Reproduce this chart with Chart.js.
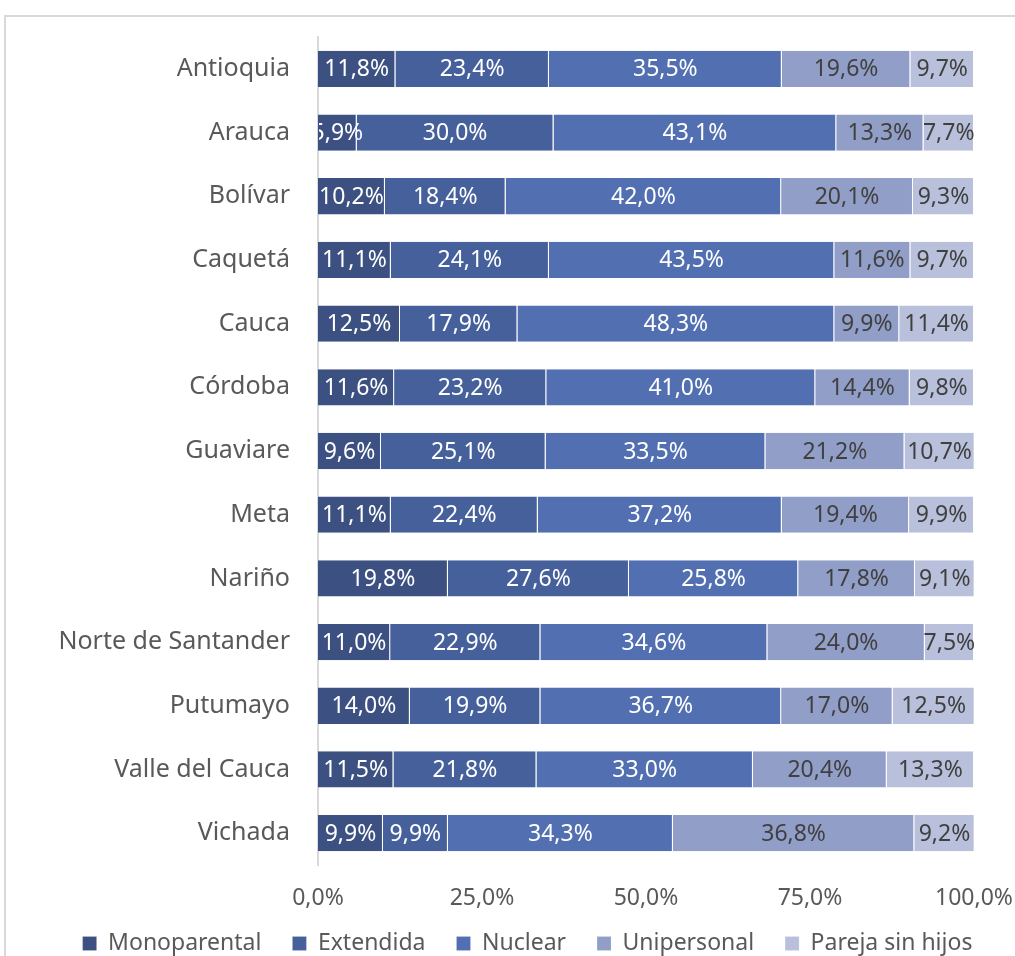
<!DOCTYPE html>
<html>
<head>
<meta charset="utf-8">
<script src="https://cdn.jsdelivr.net/npm/chart.js@4"></script>
<style>
  html, body { margin: 0; padding: 0; background: #fff; overflow: hidden; }
  #frame { position: absolute; left: 4px; top: 15px; width: 1100px; height: 1100px; border: 2px solid #d9d9d9; }
  #wrap { position: absolute; left: 0; top: 0; width: 1015px; height: 977px; }
</style>
</head>
<body>
<div id="frame"></div>
<div id="wrap"><canvas id="chart"></canvas></div>
<script>
const departamentos = ['Antioquia', 'Arauca', 'Bolívar', 'Caquetá', 'Cauca', 'Córdoba', 'Guaviare',
  'Meta', 'Nariño', 'Norte de Santander', 'Putumayo', 'Valle del Cauca', 'Vichada'];
const tipos = ['Monoparental', 'Extendida', 'Nuclear', 'Unipersonal', 'Pareja sin hijos'];
const monoparental = [11.8, 5.9, 10.2, 11.1, 12.5, 11.6, 9.6, 11.1, 19.8, 11.0, 14.0, 11.5, 9.9];
const extendida = [23.4, 30.0, 18.4, 24.1, 17.9, 23.2, 25.1, 22.4, 27.6, 22.9, 19.9, 21.8, 9.9];
const nuclear = [35.5, 43.1, 42.0, 43.5, 48.3, 41.0, 33.5, 37.2, 25.8, 34.6, 36.7, 33.0, 34.3];
const unipersonal = [19.6, 13.3, 20.1, 11.6, 9.9, 14.4, 21.2, 19.4, 17.8, 24.0, 17.0, 20.4, 36.8];
const parejaSinHijos = [9.7, 7.7, 9.3, 9.7, 11.4, 9.8, 10.7, 9.9, 9.1, 7.5, 12.5, 13.3, 9.2];
const ejeX = [0, 25, 50, 75, 100];

const colores = ['#3c5181', '#46609c', '#5270b1', '#919fc8', '#b9c0dc'];
const coloresTexto = ['#ffffff', '#ffffff', '#ffffff', '#404040', '#404040'];
const fuente = "'Noto Sans', 'Open Sans', sans-serif";

function fmt(v) {
  return v.toFixed(1).replace('.', ',') + '%';
}

const series = [monoparental, extendida, nuclear, unipersonal, parejaSinHijos];

// etiquetas dentro de cada segmento
const etiquetas = {
  id: 'etiquetas',
  afterDatasetsDraw(chart) {
    const {ctx, chartArea} = chart;
    ctx.save();
    ctx.beginPath();
    ctx.rect(chartArea.left + 1, 0, chart.width, chart.height);
    ctx.clip();
    ctx.font = '23px ' + fuente;
    ctx.textAlign = 'center';
    ctx.textBaseline = 'middle';
    chart.data.datasets.forEach((ds, i) => {
      ctx.fillStyle = coloresTexto[i];
      chart.getDatasetMeta(i).data.forEach((bar, j) => {
        const cx = (bar.x + bar.base) / 2;
        ctx.fillText(fmt(ds.data[j]), cx, bar.y + 1);
      });
    });
    ctx.restore();
  }
};

// sube un poco la leyenda
const subirLeyenda = {
  id: 'subirLeyenda',
  afterLayout(chart) {
    chart.legend.top -= 12;
    chart.legend.bottom -= 12;
  }
};

new Chart(document.getElementById('chart'), {
  type: 'bar',
  data: {
    labels: departamentos,
    datasets: tipos.map((t, i) => ({
      label: t,
      data: series[i],
      backgroundColor: colores[i],
      borderColor: 'rgba(255,255,255,0.6)',
      borderWidth: {right: 1},
      borderSkipped: false,
      barPercentage: 0.57,
      categoryPercentage: 1
    }))
  },
  options: {
    indexAxis: 'y',
    responsive: true,
    maintainAspectRatio: false,
    animation: false,
    layout: { padding: { top: 37, right: 0, left: 40, bottom: 0 } },
    scales: {
      x: {
        stacked: true,
        min: 0,
        max: 100,
        afterBuildTicks(scale) { scale.ticks = ejeX.map(v => ({value: v})); },
        afterFit(scale) { scale.paddingRight = 41; scale.height = 48; },
        grid: { display: false },
        border: { display: false },
        ticks: {
          padding: 12,
          color: '#595959',
          font: { family: fuente, size: 23 },
          callback: v => fmt(v)
        }
      },
      y: {
        stacked: true,
        afterFit(scale) { scale.width = 278; },
        grid: { display: false },
        border: { display: true, color: '#d9d9d9', width: 2 },
        ticks: {
          padding: 20,
          color: '#595959',
          font: { family: fuente, size: 25 }
        }
      }
    },
    plugins: {
      legend: {
        position: 'bottom',
        labels: {
          boxWidth: 14,
          boxHeight: 14,
          padding: 31,
          color: '#595959',
          font: { family: fuente, size: 23 }
        }
      },
      tooltip: { enabled: false }
    }
  },
  plugins: [etiquetas, subirLeyenda]
});
</script>
</body>
</html>
